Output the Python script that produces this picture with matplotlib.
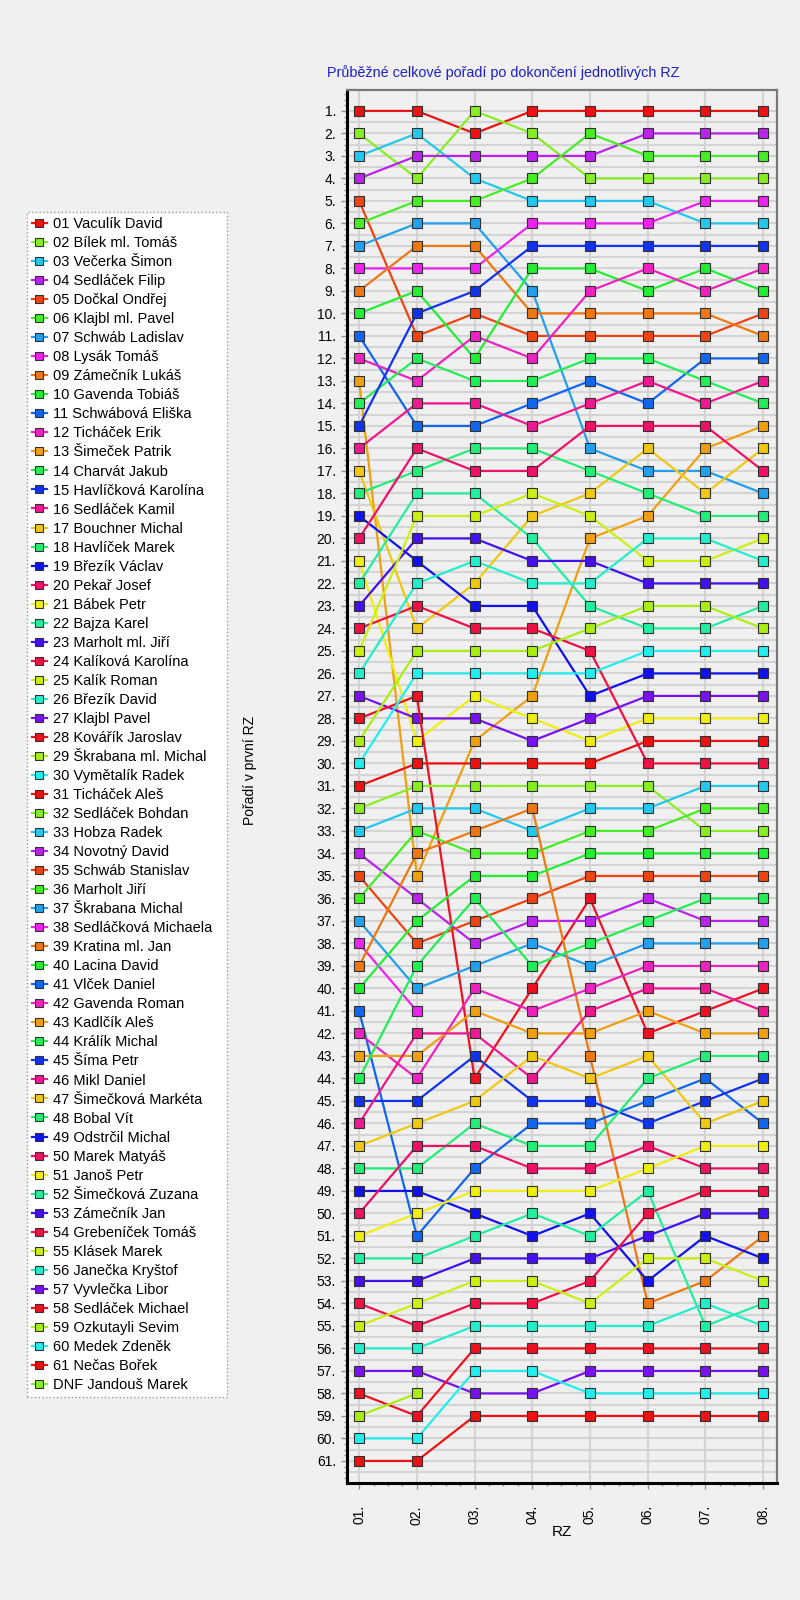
import numpy as np
import matplotlib.pyplot as plt
from matplotlib.ticker import MultipleLocator

plt.rcParams['font.family'] = ['Liberation Sans', 'DejaVu Sans']

# stage labels (RZ = rychlostni zkouska)
stages = ['01.', '02.', '03.', '04.', '05.', '06.', '07.', '08.']

drivers = [
    '01 Vaculík David', '02 Bílek ml. Tomáš', '03 Večerka Šimon', '04 Sedláček Filip',
    '05 Dočkal Ondřej', '06 Klajbl ml. Pavel', '07 Schwáb Ladislav', '08 Lysák Tomáš',
    '09 Zámečník Lukáš', '10 Gavenda Tobiáš', '11 Schwábová Eliška', '12 Ticháček Erik',
    '13 Šimeček Patrik', '14 Charvát Jakub', '15 Havlíčková Karolína', '16 Sedláček Kamil',
    '17 Bouchner Michal', '18 Havlíček Marek', '19 Březík Václav', '20 Pekař Josef',
    '21 Bábek Petr', '22 Bajza Karel', '23 Marholt ml. Jiří', '24 Kalíková Karolína',
    '25 Kalík Roman', '26 Březík David', '27 Klajbl Pavel', '28 Kovářík Jaroslav',
    '29 Škrabana ml. Michal', '30 Vymětalík Radek', '31 Ticháček Aleš', '32 Sedláček Bohdan',
    '33 Hobza Radek', '34 Novotný David', '35 Schwáb Stanislav', '36 Marholt Jiří',
    '37 Škrabana Michal', '38 Sedláčková Michaela', '39 Kratina ml. Jan', '40 Lacina David',
    '41 Vlček Daniel', '42 Gavenda Roman', '43 Kadlčík Aleš', '44 Králík Michal',
    '45 Šíma Petr', '46 Mikl Daniel', '47 Šimečková Markéta', '48 Bobal Vít',
    '49 Odstrčil Michal', '50 Marek Matyáš', '51 Janoš Petr', '52 Šimečková Zuzana',
    '53 Zámečník Jan', '54 Grebeníček Tomáš', '55 Klásek Marek', '56 Janečka Kryštof',
    '57 Vyvlečka Libor', '58 Sedláček Michael', '59 Ozkutayli Sevim', '60 Medek Zdeněk',
    '61 Nečas Bořek', 'DNF Jandouš Marek',
]

# overall position after each stage, one list per driver (shorter list = retired)
ranks = [
    [1, 1, 2, 1, 1, 1, 1, 1],
    [2, 4, 1, 2, 4, 4, 4, 4],
    [3, 2, 4, 5, 5, 5, 6, 6],
    [4, 3, 3, 3, 3, 2, 2, 2],
    [5, 11, 10, 11, 11, 11, 11, 10],
    [6, 5, 5, 4, 2, 3, 3, 3],
    [7, 6, 6, 9, 16, 17, 17, 18],
    [8, 8, 8, 6, 6, 6, 5, 5],
    [9, 7, 7, 10, 10, 10, 10, 11],
    [10, 9, 12, 8, 8, 9, 8, 9],
    [11, 15, 15, 14, 13, 14, 12, 12],
    [12, 13, 11, 12, 9, 8, 9, 8],
    [13, 35, 29, 27, 20, 19, 16, 15],
    [14, 12, 13, 13, 12, 12, 13, 14],
    [15, 10, 9, 7, 7, 7, 7, 7],
    [16, 14, 14, 15, 14, 13, 14, 13],
    [17, 24, 22, 19, 18, 16, 18, 16],
    [18, 17, 16, 16, 17, 18, 19, 19],
    [19, 21, 23, 23, 27, 26, 26, 26],
    [20, 16, 17, 17, 15, 15, 15, 17],
    [21, 29, 27, 28, 29, 28, 28, 28],
    [22, 18, 18, 20, 23, 24, 24, 23],
    [23, 20, 20, 21, 21, 22, 22, 22],
    [24, 23, 24, 24, 25, 30, 30, 30],
    [25, 19, 19, 18, 19, 21, 21, 20],
    [26, 22, 21, 22, 22, 20, 20, 21],
    [27, 28, 28, 29, 28, 27, 27, 27],
    [28, 27, 44, 40, 36, 42, 41, 40],
    [29, 25, 25, 25, 24, 23, 23, 24],
    [30, 26, 26, 26, 26, 25, 25, 25],
    [31, 30, 30, 30, 30, 29, 29, 29],
    [32, 31, 31, 31, 31, 31, 33, 33],
    [33, 32, 32, 33, 32, 32, 31, 31],
    [34, 36, 38, 37, 37, 36, 37, 37],
    [35, 38, 37, 36, 35, 35, 35, 35],
    [36, 33, 34, 34, 33, 33, 32, 32],
    [37, 40, 39, 38, 39, 38, 38, 38],
    [38, 41],
    [39, 34, 33, 32, 43, 54, 53, 51],
    [40, 37, 35, 35, 34, 34, 34, 34],
    [41, 51, 48, 46, 46, 45, 44, 46],
    [42, 44, 40, 41, 40, 39, 39, 39],
    [43, 43, 41, 42, 42, 41, 42, 42],
    [44, 39, 36, 39, 38, 37, 36, 36],
    [45, 45, 43, 45, 45, 46, 45, 44],
    [46, 42, 42, 44, 41, 40, 40, 41],
    [47, 46, 45, 43, 44, 43, 46, 45],
    [48, 48, 46, 47, 47, 44, 43, 43],
    [49, 49, 50, 51, 50, 53, 51, 52],
    [50, 47, 47, 48, 48, 47, 48, 48],
    [51, 50, 49, 49, 49, 48, 47, 47],
    [52, 52, 51, 50, 51, 49, 55, 54],
    [53, 53, 52, 52, 52, 51, 50, 50],
    [54, 55, 54, 54, 53, 50, 49, 49],
    [55, 54, 53, 53, 54, 52, 52, 53],
    [56, 56, 55, 55, 55, 55, 54, 55],
    [57, 57, 58, 58, 57, 57, 57, 57],
    [58, 59, 56, 56, 56, 56, 56, 56],
    [59, 58],
    [60, 60, 57, 57, 58, 58, 58, 58],
    [61, 61, 59, 59, 59, 59, 59, 59],
    [],
]

# 30 colour cycle used by the original program
palette = [
    '#ee1111', '#88ee22', '#22c8ee', '#bb22ee', '#ee4411', '#44ee22',
    '#22a0ee', '#ee22ee', '#ee7711', '#22ee33', '#1166ee', '#ee22c0',
    '#eea011', '#22ee55', '#1133ee', '#ee1890', '#eec811', '#22ee77',
    '#1111ee', '#ee1166', '#eeee11', '#22eea0', '#4411ee', '#ee1144',
    '#ccee11', '#22eecc', '#7711ee', '#ee1122', '#aaee11', '#22eeee',
]

fig = plt.figure(figsize=(8, 16), dpi=100, facecolor='#f0f0f0')
ax = fig.add_axes([347 / 800, 1 - 1483 / 1600, 430 / 800, 1393 / 1600])
ax.set_facecolor('#f0f0f0')

x = np.arange(1, len(stages) + 1)
handles = []
for i, (name, r) in enumerate(zip(drivers, ranks)):
    c = palette[i % len(palette)]
    ln, = ax.plot(x[:len(r)], r, color=c, lw=1.6, marker='s', ms=6.5,
                  mfc=c, mec='#303030', mew=0.8, label=name)
    handles.append(ln)

ax.set_xlim(0.79, 8.24)
ax.set_ylim(61.98, 0.07)

ax.set_yticks(range(1, 62))
ax.set_yticklabels([f'{i}.' for i in range(1, 62)], fontsize=10)
ax.yaxis.set_minor_locator(MultipleLocator(0.25))
ax.set_xticks(x)
ax.set_xticklabels(stages, rotation=90, fontsize=10)
ax.xaxis.set_minor_locator(MultipleLocator(0.25))

ax.tick_params(axis='y', which='major', length=4, width=1, color='#909090', pad=4)
ax.tick_params(axis='y', which='minor', length=2, width=1, color='#909090')
ax.tick_params(axis='x', which='major', length=4, width=1, color='#909090', pad=12)
ax.tick_params(axis='x', which='minor', length=2, width=1, color='#909090')

# grid lines at each row and between the rows
ax.grid(which='major', axis='y', color='#d4d4d4', lw=1.5)
ax.grid(which='major', axis='x', color='#d4d4d4', lw=1.5)
for yy in np.arange(1.5, 62, 1):
    ax.axhline(yy, color='#d4d4d4', lw=1.5, zorder=0)
ax.set_axisbelow(True)

for s in ['left', 'bottom']:
    ax.spines[s].set_color('black')
    ax.spines[s].set_linewidth(2.2)
for s in ['top', 'right']:
    ax.spines[s].set_color('#7a7a7a')
    ax.spines[s].set_linewidth(1.6)

ax.set_xlabel('RZ', fontsize=11, labelpad=0)

fig.text(327 / 800, 1 - 73 / 1600, 'Průběžné celkové pořadí po dokončení jednotlivých RZ',
         color='#2020c8', fontsize=10.4, va='center', ha='left')
fig.text(250 / 800, 1 - 770 / 1600, 'Pořadí v první RZ', rotation=90,
         fontsize=10, va='center', ha='center')

leg = fig.legend(handles, drivers, loc='upper left', mode='expand',
                 bbox_to_anchor=(27 / 800, 1 - 1395 / 1600, 200 / 800, 1183 / 1600),
                 fontsize=10.5, labelspacing=0.345, handlelength=1.0, handletextpad=0.45,
                 borderpad=0.35, borderaxespad=0, fancybox=False, framealpha=1,
                 markerscale=0.9)
leg.get_frame().set_facecolor('white')
leg.get_frame().set_edgecolor('#9a9a9a')
leg.get_frame().set_linestyle(':')

fig.savefig('out.png', dpi=100, facecolor=fig.get_facecolor())
